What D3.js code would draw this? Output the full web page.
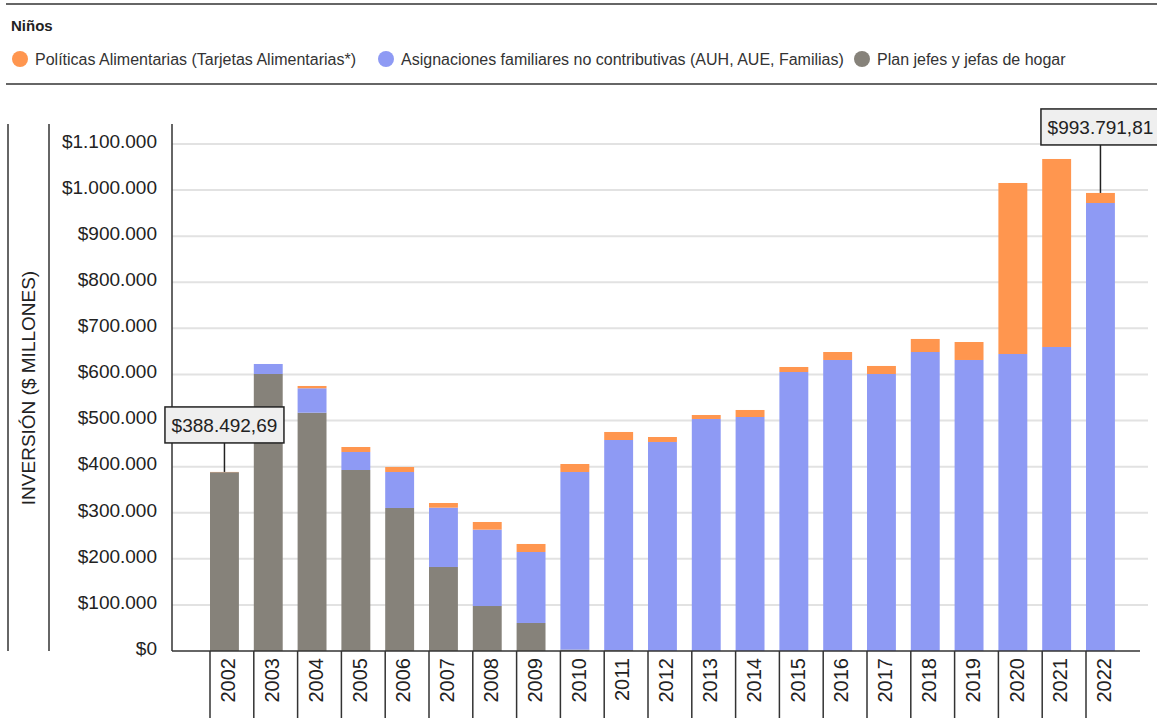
<!DOCTYPE html>
<html>
<head>
<meta charset="utf-8">
<script src="https://cdn.jsdelivr.net/npm/d3@7"></script>
<style>
	body { margin: 0; background: #fff; }
	svg { display: block; font-family: 'Liberation Sans', Arial, sans-serif; }
</style>
</head>
<body>
<div id="chart"></div>
<script>
// data ($ millones)
const years = ['2002', '2003', '2004', '2005', '2006', '2007', '2008', '2009', '2010', '2011', '2012',
	'2013', '2014', '2015', '2016', '2017', '2018', '2019', '2020', '2021', '2022'];
const planJefes = [388000, 601000, 517000, 392700, 310300, 182300, 97600, 60800, 3000, 2000, 0,
	0, 0, 0, 0, 0, 0, 0, 0, 0, 0];
const asignaciones = [0, 21700, 53000, 39100, 78100, 128700, 165700, 154000, 385400, 455800, 453500,
	503400, 507700, 605300, 631400, 601000, 648700, 631400, 644400, 659600, 972000];
const alimentarias = [492.69, 0, 5000, 10800, 10800, 10100, 16600, 17400, 17300, 17400, 10800,
	8600, 15200, 10900, 17300, 17400, 28300, 39000, 371000, 407900, 21791.81];
const yTicks = [0, 100000, 200000, 300000, 400000, 500000, 600000, 700000, 800000, 900000, 1000000, 1100000];
const seriesKeys = ['plan', 'asig', 'alim'];
const seriesNames = ['Políticas Alimentarias (Tarjetas Alimentarias*)',
	'Asignaciones familiares no contributivas (AUH, AUE, Familias)', 'Plan jefes y jefas de hogar'];
const annotated = ['2002', '2022'];

const colors = { alim: '#ff964f', asig: '#8e9af4', plan: '#86827a' };

const width = 1157, height = 718;
const svg = d3.select('#chart').append('svg').attr('width', width).attr('height', height);

const loc = d3.formatLocale({ decimal: ',', thousands: '.', grouping: [3], currency: ['$', ''] });
const fmtTick = loc.format('$,.0f');
const fmtVal = loc.format('$,.2f');

// header
svg.append('line').attr('x1', 6).attr('x2', width).attr('y1', 4).attr('y2', 4)
	.style('stroke', '#666').style('stroke-width', 2);
svg.append('line').attr('x1', 6).attr('x2', width).attr('y1', 84).attr('y2', 84)
	.style('stroke', '#333').style('stroke-width', 1.5);
svg.append('text').attr('x', 11).attr('y', 31).text('Niños')
	.style('font-weight', 'bold').style('font-size', '15px').style('fill', '#222');

const legendKeys = ['alim', 'asig', 'plan'];
const legendX = [20, 386, 862];
legendKeys.forEach((k, i) => {
	svg.append('circle').attr('cx', legendX[i]).attr('cy', 59).attr('r', 8).style('fill', colors[k]);
	svg.append('text').attr('x', legendX[i] + 15).attr('y', 59).attr('dy', '0.35em')
		.text(seriesNames[i]).style('font-size', '16px').style('fill', '#333');
});

// scales
const y = d3.scaleLinear().domain([0, 1100000]).range([651, 144]);
const x = d3.scaleBand().domain(years).range([210, 210 + 21 * 43.8]).paddingInner(0);
const barW = x.bandwidth() * 0.66;

// grid
svg.append('g').selectAll('line').data(yTicks.slice(1)).enter().append('line')
	.attr('x1', 172).attr('x2', 1148)
	.attr('y1', (d) => y(d)).attr('y2', (d) => y(d))
	.style('stroke', '#e2e2e2').style('stroke-width', 2);

// stacked bars
const table = years.map((yr, i) => ({ year: yr, plan: planJefes[i], asig: asignaciones[i], alim: alimentarias[i] }));
const stack = d3.stack().keys(seriesKeys)(table);

svg.append('g').selectAll('g').data(stack).enter().append('g')
	.style('fill', (d) => colors[d.key])
	.selectAll('rect').data((d) => d).enter().append('rect')
	.attr('x', (d) => x(d.data.year))
	.attr('width', barW)
	.attr('y', (d) => y(d[1]))
	.attr('height', (d) => y(d[0]) - y(d[1]));

// axes lines
const axisG = svg.append('g').style('stroke', '#333').style('stroke-width', 1.5);
axisG.append('line').attr('x1', 8).attr('x2', 8).attr('y1', 124).attr('y2', 651);
axisG.append('line').attr('x1', 49).attr('x2', 49).attr('y1', 124).attr('y2', 651);
axisG.append('line').attr('x1', 172).attr('x2', 172).attr('y1', 124).attr('y2', 651);
axisG.append('line').attr('x1', 172).attr('x2', 1140).attr('y1', 651).attr('y2', 651);
axisG.selectAll('line.sep').data(years).enter().append('line').attr('class', 'sep')
	.attr('x1', (d) => x(d)).attr('x2', (d) => x(d))
	.attr('y1', 651).attr('y2', height);

// y tick labels
svg.append('g').selectAll('text').data(yTicks).enter().append('text')
	.attr('x', 157).attr('y', (d) => y(d)).attr('dy', '0.2em')
	.attr('text-anchor', 'end')
	.style('font-size', '19px').style('fill', '#222')
	.text((d) => fmtTick(d));

// x labels
svg.append('g').selectAll('text').data(years).enter().append('text')
	.attr('transform', (d) => 'translate(' + (x(d) + 18) + ',658) rotate(-90)')
	.attr('text-anchor', 'end').attr('dy', '0.36em')
	.style('font-size', '20px').style('fill', '#222')
	.text((d) => d);

// y title
svg.append('text').attr('transform', 'translate(28,388) rotate(-90)')
	.attr('text-anchor', 'middle').attr('dy', '0.36em')
	.style('font-size', '19px').style('fill', '#222')
	.text('INVERSIÓN ($ MILLONES)');

// annotations
const annOffset = { '2002': 29, '2022': 48 };
annotated.forEach((yr) => {
	const i = years.indexOf(yr);
	const total = planJefes[i] + asignaciones[i] + alimentarias[i];
	const cx = x(yr) + barW / 2;
	const top = y(total);
	const boxBottom = top - annOffset[yr];
	const g = svg.append('g');
	g.append('line').attr('x1', cx).attr('x2', cx).attr('y1', boxBottom).attr('y2', top)
		.style('stroke', '#222').style('stroke-width', 1.5);
	g.append('rect').attr('x', cx - 59.5).attr('y', boxBottom - 36).attr('width', 119).attr('height', 36)
		.style('fill', '#efefef').style('stroke', '#222').style('stroke-width', 1.5);
	g.append('text').attr('x', cx).attr('y', boxBottom - 18).attr('dy', '0.36em')
		.attr('text-anchor', 'middle').style('font-size', '19px').style('fill', '#222')
		.text(fmtVal(total));
});
</script>
</body>
</html>
